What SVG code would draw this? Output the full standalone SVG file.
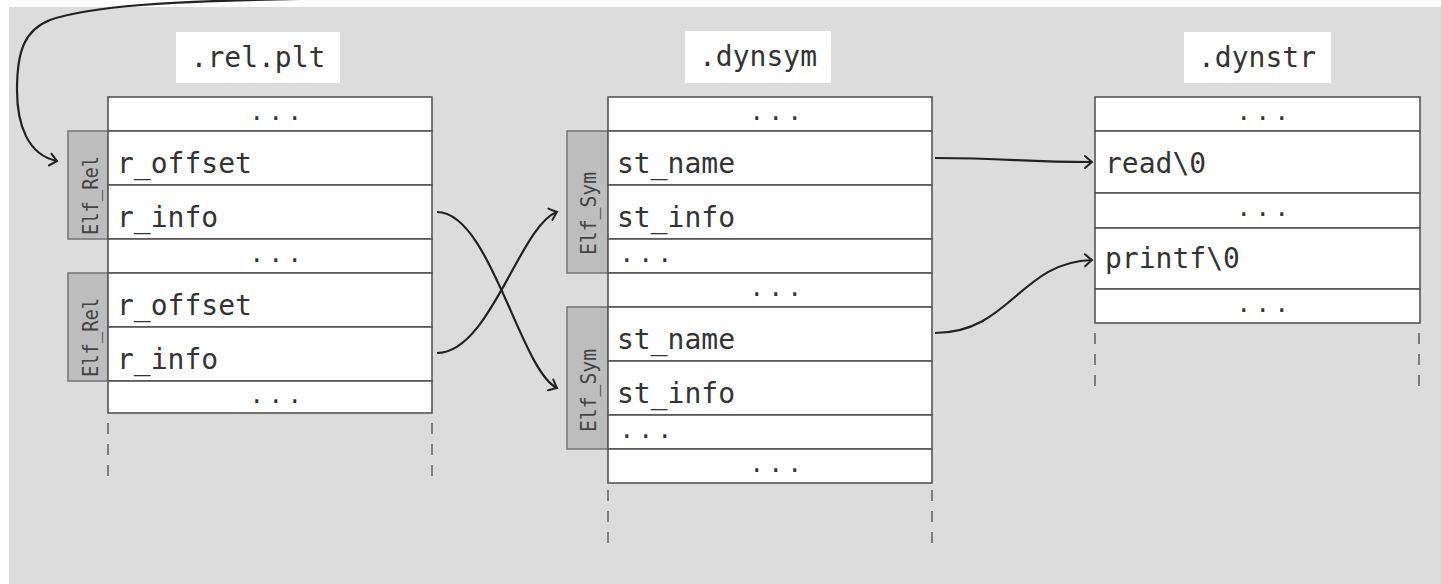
<svg xmlns="http://www.w3.org/2000/svg" width="1441" height="584" viewBox="0 0 1441 584">
  <style>
    .panel { fill: #dcdcdc; }
    .cell { fill: #ffffff; stroke: #555555; stroke-width: 1.6; }
    .tab { fill: #bdbdbd; stroke: #7a7a7a; stroke-width: 1.6; }
    .hdr { fill: #ffffff; }
    .txt { font-family: "DejaVu Sans Mono", "Liberation Mono", monospace; font-size: 28px; fill: #333333; }
    .dots { font-family: "DejaVu Sans Mono", "Liberation Mono", monospace; font-size: 24px; fill: #333333; letter-spacing: 4.5px; }
    .mid { text-anchor: middle; }
    .tabtxt { font-family: "DejaVu Sans Mono", "Liberation Mono", monospace; font-size: 22px; fill: #444444; }
    .guide { stroke: #666666; stroke-width: 1.6; stroke-dasharray: 11 10; fill: none; }
    .link { fill: none; stroke: #222222; stroke-width: 2.2; marker-end: url(#to); }
  </style>
  <defs>
    <marker id="to" viewBox="-10 -8 12 16" refX="0" refY="0" markerWidth="12" markerHeight="16" markerUnits="userSpaceOnUse" orient="auto">
      <path d="M-7,-6 Q-2,-1.5 0,0 Q-2,1.5 -7,6" fill="none" stroke="#222222" stroke-width="2" stroke-linecap="round"/>
    </marker>
  </defs>

  <rect x="0" y="0" width="1441" height="584" fill="#ffffff"/>
  <rect class="panel" x="9" y="7" width="1432" height="577"/>

  <!-- .rel.plt section -->
  <g id="rel_plt">
    <rect class="hdr" x="176" y="32" width="164" height="51"/>
    <text class="txt mid" x="258" y="67">.rel.plt</text>
    <g id="rel_plt_entry1">
      <rect class="tab" x="68" y="131" width="40" height="108"/>
      <text class="tabtxt" transform="translate(98,235) rotate(-90)" textLength="79" lengthAdjust="spacingAndGlyphs">Elf_Rel</text>
    </g>
    <g id="rel_plt_entry2">
      <rect class="tab" x="68" y="273" width="40" height="108"/>
      <text class="tabtxt" transform="translate(98,377) rotate(-90)" textLength="79" lengthAdjust="spacingAndGlyphs">Elf_Rel</text>
    </g>
    <rect class="cell" x="108" y="97" width="324" height="34"/>
    <rect class="cell" x="108" y="131" width="324" height="54"/>
    <rect class="cell" x="108" y="185" width="324" height="54"/>
    <rect class="cell" x="108" y="239" width="324" height="34"/>
    <rect class="cell" x="108" y="273" width="324" height="54"/>
    <rect class="cell" x="108" y="327" width="324" height="54"/>
    <rect class="cell" x="108" y="381" width="324" height="32"/>
    <text class="dots mid" x="278" y="120">...</text>
    <text class="txt" x="117" y="173">r_offset</text>
    <text class="txt" x="117" y="227">r_info</text>
    <text class="dots mid" x="278" y="262">...</text>
    <text class="txt" x="117" y="315">r_offset</text>
    <text class="txt" x="117" y="369">r_info</text>
    <text class="dots mid" x="278" y="403">...</text>
    <line class="guide" x1="108" y1="423" x2="108" y2="478"/>
    <line class="guide" x1="432" y1="423" x2="432" y2="478"/>
  </g>

  <!-- .dynsym section -->
  <g id="dynsym">
    <rect class="hdr" x="685" y="31" width="146" height="52"/>
    <text class="txt mid" x="758" y="66">.dynsym</text>
    <g id="dynsym_entry1">
      <rect class="tab" x="567" y="131" width="41" height="142"/>
      <text class="tabtxt" transform="translate(596,255) rotate(-90)" textLength="83" lengthAdjust="spacingAndGlyphs">Elf_Sym</text>
    </g>
    <g id="dynsym_entry2">
      <rect class="tab" x="567" y="307" width="41" height="142"/>
      <text class="tabtxt" transform="translate(596,432) rotate(-90)" textLength="83" lengthAdjust="spacingAndGlyphs">Elf_Sym</text>
    </g>
    <rect class="cell" x="608" y="97" width="324" height="34"/>
    <rect class="cell" x="608" y="131" width="324" height="54"/>
    <rect class="cell" x="608" y="185" width="324" height="54"/>
    <rect class="cell" x="608" y="239" width="324" height="34"/>
    <rect class="cell" x="608" y="273" width="324" height="34"/>
    <rect class="cell" x="608" y="307" width="324" height="54"/>
    <rect class="cell" x="608" y="361" width="324" height="54"/>
    <rect class="cell" x="608" y="415" width="324" height="34"/>
    <rect class="cell" x="608" y="449" width="324" height="34"/>
    <text class="dots mid" x="778" y="120">...</text>
    <text class="txt" x="617" y="173">st_name</text>
    <text class="txt" x="617" y="227">st_info</text>
    <text class="dots mid" x="648" y="262">...</text>
    <text class="dots mid" x="778" y="296">...</text>
    <text class="txt" x="617" y="349">st_name</text>
    <text class="txt" x="617" y="403">st_info</text>
    <text class="dots mid" x="648" y="438">...</text>
    <text class="dots mid" x="778" y="472">...</text>
    <line class="guide" x1="608" y1="490" x2="608" y2="546"/>
    <line class="guide" x1="932" y1="490" x2="932" y2="546"/>
  </g>

  <!-- .dynstr section -->
  <g id="dynstr">
    <rect class="hdr" x="1184" y="32" width="147" height="51"/>
    <text class="txt mid" x="1257" y="67">.dynstr</text>
    <rect class="cell" x="1095" y="97" width="325" height="34"/>
    <rect class="cell" x="1095" y="131" width="325" height="62"/>
    <rect class="cell" x="1095" y="193" width="325" height="35"/>
    <rect class="cell" x="1095" y="228" width="325" height="61"/>
    <rect class="cell" x="1095" y="289" width="325" height="34"/>
    <text class="dots mid" x="1265" y="120">...</text>
    <text class="txt" x="1105" y="173">read\0</text>
    <text class="dots mid" x="1265" y="216">...</text>
    <text class="txt" x="1105" y="268">printf\0</text>
    <text class="dots mid" x="1265" y="312">...</text>
    <line class="guide" x1="1095" y1="333" x2="1095" y2="387"/>
    <line class="guide" x1="1419" y1="333" x2="1419" y2="387"/>
  </g>

  <!-- connectors -->
  <g id="connectors">
    <path class="link" d="M300,-1 C170,1 90,6 50,20 C25,30 17,50 17,90 C17,125 28,155 57,161"/>
    <path class="link" d="M437,212 C490,212 520,370 557,388"/>
    <path class="link" d="M437,353 C490,353 520,225 557,212"/>
    <path class="link" d="M935,158 C1010,158 1020,162 1092,162"/>
    <path class="link" d="M935,333 C1010,333 1020,262 1092,260"/>
  </g>
</svg>
